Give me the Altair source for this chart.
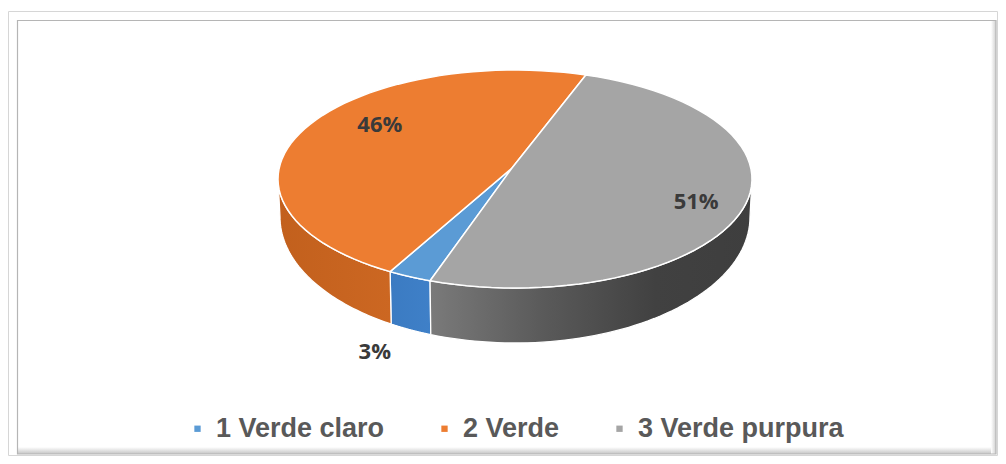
import altair as alt
import pandas as pd

# ---- data ----
categories = ["1 Verde claro", "2 Verde", "3 Verde purpura"]
values = [3, 46, 51]

# ---- styles ----
top_colors = ["#5B9BD5", "#ED7D31", "#A5A5A5"]
side_fills = [
    [("#3B7BC2", 0.0), ("#3F80C8", 1.0)],
    [("#C2601D", 0.0), ("#CC6722", 1.0)],
    [("#7A7A7A", 0.0), ("#5A5A5A", 0.35), ("#414141", 0.7), ("#3E3E3E", 1.0)],
]

# ---- layout (chart pixel coordinates) ----
W, H = 990, 448
CX, CY, RX, RY = 507, 171, 237, 109       # top ellipse
BCY, BRX, BRY = 209, 235, 126             # bottom ellipse (perspective)
AX, AY = 504, 160                         # pie apex on the top face
FIRST_ANGLE = 201                         # angle of first slice (deg, clockwise from top)
N = 60
LCX = CX + 20

df = pd.DataFrame({"cat": categories, "value": values, "order": list(range(len(values)))})

xs = alt.Scale(domain=[0, W], range=[0, W], nice=False, zero=False)
ys = alt.Scale(domain=[0, H], range=[0, H], nice=False, zero=False)


def base():
    return (
        alt.Chart(df)
        .transform_window(cum="sum(value)", sort=[alt.SortField("order")], frame=[None, 0])
        .transform_joinaggregate(total="sum(value)")
        .transform_calculate(a0=f"{FIRST_ANGLE} + 360*(datum.cum - datum.value)/datum.total")
        .transform_calculate(a1=f"{FIRST_ANGLE} + 360*datum.cum/datum.total")
    )


layers = []

# side walls, one layer per slice
for i in range(len(categories)):
    stops = [alt.GradientStop(color=c, offset=o) for c, o in side_fills[i]]
    side = (
        base()
        .transform_filter(f"datum.order == {i}")
        .transform_calculate(off="floor(datum.a0/360)*360")
        .transform_calculate(s0="max(datum.a0 - datum.off, 90)")
        .transform_calculate(s1="min(datum.a1 - datum.off, 270)")
        .transform_filter("datum.s1 > datum.s0")
        .transform_calculate(k=f"sequence(0, {2 * N + 3})")
        .transform_flatten(["k"])
        .transform_calculate(top=f"datum.k <= {N} || datum.k == {2 * N + 2}")
        .transform_calculate(
            th=f"(datum.k <= {N} ? datum.s0 + (datum.s1 - datum.s0)*datum.k/{N} : "
               f"(datum.k == {2 * N + 2} ? datum.s0 : datum.s1 - (datum.s1 - datum.s0)*(datum.k - {N + 1})/{N})) * PI / 180"
        )
        .transform_calculate(px=f"datum.top ? {CX} + {RX}*sin(datum.th) : {CX} + {BRX}*sin(datum.th)")
        .transform_calculate(py=f"datum.top ? {CY} - {RY}*cos(datum.th) : {BCY} - {BRY}*cos(datum.th)")
        .mark_line(
            filled=True,
            fill=alt.Gradient(gradient="linear", stops=stops, x1=0, x2=1, y1=0, y2=0),
            stroke="white",
            strokeWidth=1.3,
            strokeJoin="round",
        )
        .encode(
            x=alt.X("px:Q", scale=xs, axis=None),
            y=alt.Y("py:Q", scale=ys, axis=None),
            order=alt.Order("k:Q"),
            detail="cat:N",
        )
    )
    layers.append(side)

# top faces
top = (
    base()
    .transform_calculate(k=f"sequence(0, {N + 3})")
    .transform_flatten(["k"])
    .transform_calculate(th=f"(datum.a0 + (datum.a1 - datum.a0)*(datum.k - 1)/{N}) * PI / 180")
    .transform_calculate(apex=f"datum.k == 0 || datum.k == {N + 2}")
    .transform_calculate(px=f"datum.apex ? {AX} : {CX} + {RX}*sin(datum.th)")
    .transform_calculate(py=f"datum.apex ? {AY} : {CY} - {RY}*cos(datum.th)")
    .mark_line(filled=True, stroke="white", strokeWidth=1.5, strokeJoin="round")
    .encode(
        x=alt.X("px:Q", scale=xs, axis=None),
        y=alt.Y("py:Q", scale=ys, axis=None),
        order=alt.Order("k:Q"),
        detail="cat:N",
        color=alt.Color(
            "cat:N",
            scale=alt.Scale(domain=categories, range=top_colors),
            legend=alt.Legend(
                orient="none",
                legendX=176,
                legendY=407,
                direction="horizontal",
                title=None,
                symbolType="square",
                symbolSize=40,
                symbolStrokeWidth=0,
                labelFont="Liberation Sans",
                labelFontWeight="bold",
                labelFontSize=27,
                labelColor="#595959",
                labelOffset=5,
                columnPadding=46,
                labelLimit=400,
            ),
        ),
    )
)
layers.append(top)

# data labels
labels = (
    base()
    .transform_calculate(mid="(datum.a0 + datum.a1)/2 * PI / 180")
    .transform_calculate(frac="datum.value / datum.total")
    .transform_calculate(txt="round(100*datum.frac) + '%'")
    .transform_calculate(
        lx=f"datum.frac >= 0.05 ? {LCX} + 0.72*{RX}*sin(datum.mid) : {LCX} + 1.52*{RX}*sin(datum.mid)"
    )
    .transform_calculate(
        ly=f"datum.frac >= 0.05 ? {AY} - 0.95*{RY}*cos(datum.mid) : {BCY} - {BRY}*cos(datum.mid) + 22"
    )
    .mark_text(font="Open Sans", fontWeight="bold", fontSize=22, color="#3A3A3A", align="center", baseline="middle")
    .encode(
        x=alt.X("lx:Q", scale=xs, axis=None),
        y=alt.Y("ly:Q", scale=ys, axis=None),
        text="txt:N",
    )
)
layers.append(labels)

# chart frame
one = alt.Data(values=[{"f": 1}])
outer = alt.Chart(one).mark_rect(fill=None, stroke="#d6d6d6", strokeWidth=1).encode(
    x=alt.value(0.5), x2=alt.value(989.5), y=alt.value(3.5), y2=alt.value(447.5)
)
shadow_b = alt.Chart(one).mark_rect(
    fill=alt.Gradient(gradient="linear", stops=[alt.GradientStop(color="#ffffff", offset=0),
                                                 alt.GradientStop(color="#c4c4c4", offset=1)],
                      x1=0, x2=0, y1=0, y2=1)
).encode(x=alt.value(10), x2=alt.value(988), y=alt.value(439), y2=alt.value(446))
shadow_r = alt.Chart(one).mark_rect(
    fill=alt.Gradient(gradient="linear", stops=[alt.GradientStop(color="#ffffff", offset=0),
                                                 alt.GradientStop(color="#d0d0d0", offset=1)],
                      x1=0, x2=1, y1=0, y2=0)
).encode(x=alt.value(983), x2=alt.value(988), y=alt.value(13), y2=alt.value(446))
inner = alt.Chart(one).mark_rect(fill=None, stroke="#b5b5b5", strokeWidth=1.2).encode(
    x=alt.value(9.5), x2=alt.value(988), y=alt.value(12.5), y2=alt.value(446)
)

chart = (
    alt.layer(outer, shadow_b, shadow_r, inner, *layers)
    .properties(width=W, height=H, padding=0, autosize=alt.AutoSizeParams(type="none"), background="white")
    .configure_view(stroke=None)
)

chart.save("out.html", embed_options={"renderer": "svg", "actions": False})
